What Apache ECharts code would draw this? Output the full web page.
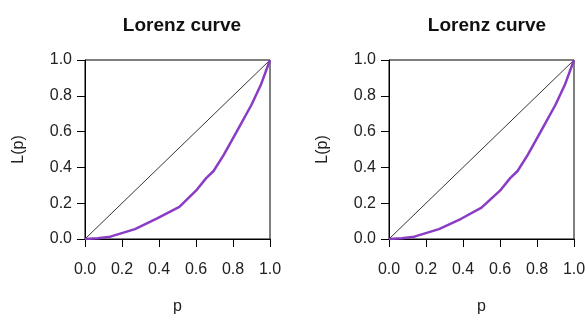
<!DOCTYPE html>
<html>
<head>
<meta charset="utf-8">
<script src="https://cdn.jsdelivr.net/npm/echarts@6/dist/echarts.min.js"></script>
<style>
  html, body { margin: 0; padding: 0; background: #fff; }
  #main { width: 587px; height: 315px; }
</style>
</head>
<body>
<div id="main"></div>
<script>
  // values
  var pLeft  = [0, 0.07, 0.137, 0.27, 0.39, 0.51, 0.6, 0.655, 0.695, 0.75, 0.82, 0.9, 0.95, 1];
  var lLeft  = [0, 0.004, 0.013, 0.055, 0.115, 0.18, 0.27, 0.34, 0.38, 0.47, 0.6, 0.75, 0.86, 1];
  var pRight = [0, 0.07, 0.137, 0.27, 0.39, 0.5, 0.6, 0.655, 0.695, 0.75, 0.82, 0.9, 0.95, 1];
  var lRight = [0, 0.004, 0.013, 0.055, 0.113, 0.175, 0.27, 0.34, 0.38, 0.47, 0.6, 0.75, 0.86, 1];
  var equality = [0, 1];
  var ticks = ['0.0', '0.2', '0.4', '0.6', '0.8', '1.0'];

  function pairs(xs, ys) {
    return xs.map(function (x, i) { return [x, ys[i]]; });
  }

  var font = 'Liberation Sans, Arial, sans-serif';

  function xAxisFor(idx) {
    return {
      gridIndex: idx, type: 'value', min: 0, max: 1, interval: 0.2,
      name: 'p', nameLocation: 'middle', nameGap: 60,
      nameTextStyle: { color: '#222', fontSize: 16, fontFamily: font },
      axisLine: { show: true, lineStyle: { color: '#000', width: 1 } },
      axisTick: { show: true, inside: false, length: 8, lineStyle: { color: '#000' } },
      axisLabel: {
        margin: 23, color: '#222', fontSize: 16, fontFamily: font,
        formatter: function (v) { return ticks[Math.round(v * 5)]; }
      },
      splitLine: { show: false }
    };
  }

  function yAxisFor(idx) {
    return {
      gridIndex: idx, type: 'value', min: 0, max: 1, interval: 0.2,
      name: 'L(p)', nameLocation: 'middle', nameGap: 58,
      nameTextStyle: { color: '#222', fontSize: 16, fontFamily: font },
      axisLine: { show: true, lineStyle: { color: '#000', width: 1 } },
      axisTick: { show: true, inside: false, length: 8, lineStyle: { color: '#000' } },
      axisLabel: {
        margin: 13, color: '#222', fontSize: 16, fontFamily: font,
        formatter: function (v) { return ticks[Math.round(v * 5)]; }
      },
      splitLine: { show: false }
    };
  }

  function curve(idx, data) {
    return {
      type: 'line', xAxisIndex: idx, yAxisIndex: idx, data: data,
      symbol: 'none', lineStyle: { color: '#8a3cc4', width: 2.5 }, z: 3
    };
  }

  function diag(idx) {
    return {
      type: 'line', xAxisIndex: idx, yAxisIndex: idx, data: pairs(equality, equality),
      symbol: 'none', lineStyle: { color: '#000', width: 0.8 }, z: 2
    };
  }

  var myChart = echarts.init(document.getElementById('main'));
  var option = {
    animation: false,
    backgroundColor: '#fff',
    title: [
      { text: 'Lorenz curve', left: 177, top: 11, textAlign: 'center',
        textStyle: { fontSize: 19, fontWeight: 'bold', color: '#111', fontFamily: font } },
      { text: 'Lorenz curve', left: 482, top: 11, textAlign: 'center',
        textStyle: { fontSize: 19, fontWeight: 'bold', color: '#111', fontFamily: font } }
    ],
    grid: [
      { left: 85, top: 60, width: 185, height: 179, containLabel: false, outerBoundsMode: 'none',
        show: true, borderColor: '#000', borderWidth: 1 },
      { left: 389, top: 60, width: 185, height: 179, containLabel: false, outerBoundsMode: 'none',
        show: true, borderColor: '#000', borderWidth: 1 }
    ],
    xAxis: [xAxisFor(0), xAxisFor(1)],
    yAxis: [yAxisFor(0), yAxisFor(1)],
    series: [
      diag(0), curve(0, pairs(pLeft, lLeft)),
      diag(1), curve(1, pairs(pRight, lRight))
    ]
  };
  myChart.setOption(option);

  window.addEventListener('resize', function () {
    myChart.resize();
  });
</script>
</body>
</html>
